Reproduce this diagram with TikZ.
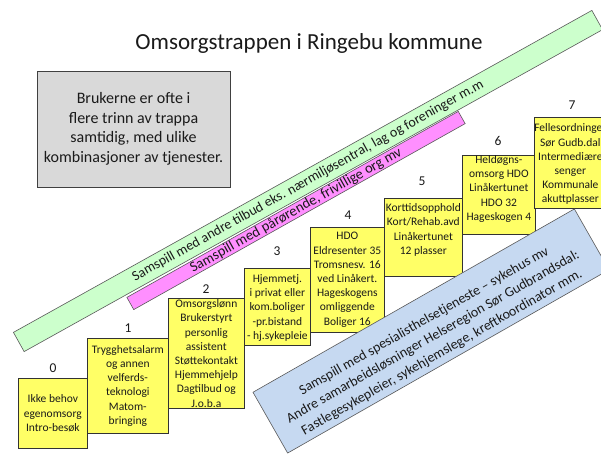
\documentclass[tikz,border=0pt]{standalone}
\usepackage{fontspec}
\setmainfont{Carlito}
\definecolor{stepyellow}{HTML}{FFFF66}
\definecolor{bandgreen}{HTML}{CCFFCC}
\definecolor{bandpink}{HTML}{FF8FFF}
\definecolor{bandblue}{HTML}{C6D9F1}
\definecolor{notegray}{HTML}{D9D9D9}
\definecolor{ink}{HTML}{1A1A1A}
\begin{document}
\begin{tikzpicture}[x=1pt,y=-1pt,
  every node/.style={text=ink},
  stepbox/.style={draw=black!80, line width=0.7pt, fill=stepyellow, inner sep=0pt, anchor=north west},
  steptext/.style={align=center, inner sep=0pt, font=\fontsize{11.5}{14.2}\selectfont},
  stepnum/.style={inner sep=0pt, font=\fontsize{13.5}{15}\selectfont},
  band/.style={draw=black!65, line width=0.6pt, inner sep=0pt},
]
% page and background
\useasboundingbox (0,0) rectangle (601,455);
\fill[white] (0,0) rectangle (601,455);

% title
\node[font=\fontsize{23}{27}\selectfont] (title) at (309,43) {Omsorgstrappen i Ringebu kommune};

% note box
\node[draw=black!75, line width=0.7pt, fill=notegray, minimum width=193pt, minimum height=116pt,
      inner sep=0pt, align=center, font=\fontsize{16}{19.6}\selectfont] (note) at (133.5,129)
  {Brukerne er ofte i\\flere trinn av trappa\\samtidig, med ulike\\kombinasjoner av tjenester.};

% diagonal bands for cooperation partners
\node[band, fill=bandgreen, minimum width=662pt, minimum height=22pt, rotate=29.1,
      font=\fontsize{14}{16}\selectfont] (green) at (308,181)
  {Samspill med andre tilbud eks. nærmiljøsentral, lag og foreninger m.m};
\node[band, fill=bandpink, minimum width=380pt, minimum height=14pt, rotate=29.3,
      font=\fontsize{14.5}{16}\selectfont] (pink) at (296,210.5)
  {Samspill med pårørende, frivillige org mv};

% the steps of the staircase
\node[stepbox, minimum width=69pt, minimum height=70pt] (b0) at (18,378) {};
\node[steptext] (t0) at (b0.center) {Ikke behov\\egenomsorg\\Intro-besøk};
\node[stepnum] (n0) at (53,368) {0};

\node[stepbox, minimum width=81pt, minimum height=95pt] (b1) at (87,338) {};
\node[steptext] (t1) at (b1.center) {Trygghetsalarm\\og annen\\velferds-\\teknologi\\Matom-\\bringing};
\node[stepnum] (n1) at (128,328) {1};

\node[stepbox, minimum width=76pt, minimum height=110pt] (b2) at (168,298) {};
\node[steptext] (t2) at (b2.center) {Omsorgslønn\\Brukerstyrt\\personlig\\assistent\\Støttekontakt\\Hjemmehjelp\\Dagtilbud og\\J.o.b.a};
\node[stepnum] (n2) at (206,289) {2};

\node[stepbox, minimum width=66pt, minimum height=77pt] (b3) at (244,268) {};
\node[steptext] (t3) at ([yshift=-1pt]b3.center) {Hjemmetj.\\i privat eller\\kom.boliger\\-pr.bistand\\- hj.sykepleie};
\node[stepnum] (n3) at (277,251) {3};

\node[stepbox, minimum width=74pt, minimum height=105pt] (b4) at (310,227) {};
\node[steptext] (t4) at (b4.center) {HDO\\Eldresenter 35\\Tromsnesv. 16\\ved Linåkert.\\Hageskogens\\omliggende\\Boliger 16};
\node[stepnum] (n4) at (348,215) {4};

\node[stepbox, minimum width=78pt, minimum height=78pt] (b5) at (384,198) {};
\node[steptext] (t5) at ([yshift=7.5pt]b5.center) {Korttidsopphold\\Kort/Rehab.avd\\Linåkertunet\\12 plasser};
\node[stepnum] (n5) at (422,181) {5};

\node[stepbox, minimum width=73pt, minimum height=79pt] (b6) at (462,155) {};
\node[steptext] (t6) at ([yshift=6pt]b6.center) {Heldøgns-\\omsorg HDO\\Linåkertunet\\HDO 32\\Hageskogen 4};
\node[stepnum] (n6) at (498,141) {6};

\node[stepbox, minimum width=72pt, minimum height=91pt] (b7) at (534,117) {};
\node[steptext] (t7) at ([yshift=-1.5pt]b7.center) {Fellesordninger\\Sør Gudb.dal\\Intermediære\\senger\\Kommunale\\akuttplasser};
\node[stepnum] (n7) at (572,105) {7};

% specialist health service band
\node[band, fill=bandblue, minimum width=370pt, minimum height=70pt, rotate=29.7] (blue) at (431,331) {};
\node[align=center, inner sep=0pt, rotate=29.7, font=\fontsize{14}{18}\selectfont] (bluetext) at (433,337)
  {Samspill med spesialisthelsetjeneste – sykehus mv\\Andre samarbeidsløsninger Helseregion Sør Gudbrandsdal:\\Fastlegesykepleier, sykehjemslege, kreftkoordinator mm.};
\end{tikzpicture}
\end{document}
